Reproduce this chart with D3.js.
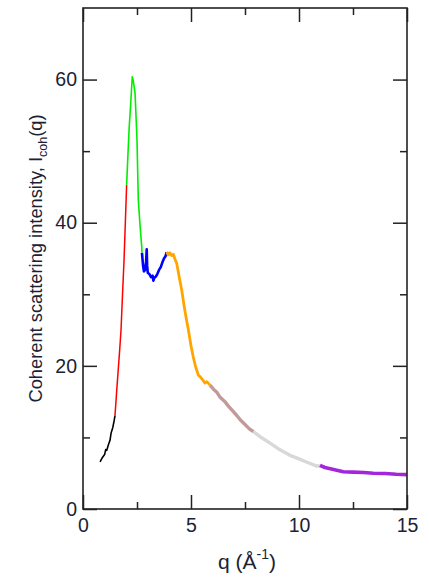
<!DOCTYPE html>
<html>
<head>
<meta charset="utf-8">
<script src="https://cdn.jsdelivr.net/npm/d3@7"></script>
<style>
  body { margin: 0; background: #fff; }
  svg { display: block; }
  text { font-family: "Liberation Sans", Arial, sans-serif; fill: #1b2233; }
</style>
</head>
<body>
<svg></svg>
<script>
const width = 429;
const height = 579;
const margin = { left: 83, top: 8, right: 22, bottom: 70 };

// q (1/Å), I_coh(q), one array per colour segment
const segBlack = [[0.79, 6.6], [0.9, 7.2], [1.0, 7.6], [1.05, 8.3], [1.1, 8.2], [1.18, 9.0], [1.25, 9.6], [1.3, 10.6], [1.38, 11.4], [1.44, 12.3], [1.48, 13.0]];
const segRed = [[1.48, 13.0], [1.56, 16.5], [1.63, 19.4], [1.7, 22.3], [1.76, 25.0], [1.83, 30.0], [1.9, 34.8], [1.96, 40.0], [2.02, 45.3]];
const segGreen = [[2.02, 45.3], [2.08, 49.5], [2.14, 53.4], [2.21, 56.7], [2.28, 60.4], [2.33, 59.8], [2.41, 58.1], [2.5, 51.6], [2.53, 47.4], [2.56, 43.2], [2.64, 39.7], [2.72, 36.6], [2.73, 35.8]];
const segBlue = [[2.73, 35.8], [2.78, 34.0], [2.82, 33.2], [2.87, 33.4], [2.92, 34.5], [2.95, 36.3], [2.97, 34.0], [3.0, 33.0], [3.08, 32.8], [3.15, 32.4], [3.22, 32.6], [3.26, 31.9], [3.3, 32.3], [3.38, 32.5], [3.45, 32.9], [3.52, 33.4], [3.6, 33.8], [3.68, 34.5], [3.75, 35.0], [3.82, 35.3], [3.87, 35.9]];
const segOrange = [[3.87, 35.9], [3.95, 35.5], [4.02, 35.8], [4.1, 35.4], [4.18, 35.6], [4.26, 34.9], [4.34, 34.3], [4.45, 32.5], [4.57, 30.6], [4.7, 28.0], [4.8, 26.3], [4.88, 25.0], [5.0, 22.8], [5.1, 21.3], [5.22, 19.8], [5.34, 18.7], [5.42, 18.5], [5.55, 18.0], [5.65, 17.6], [5.73, 17.8], [5.88, 17.3]];
const segBrown = [[5.88, 17.3], [6.05, 16.7], [6.2, 16.3], [6.35, 15.6], [6.57, 15.0], [6.75, 14.3], [6.9, 13.8], [7.11, 13.1], [7.3, 12.4], [7.5, 11.8], [7.7, 11.2], [7.89, 10.8]];
const segGrey = [[7.89, 10.8], [8.2, 10.1], [8.66, 9.2], [9.1, 8.3], [9.58, 7.5], [10.0, 7.0], [10.4, 6.5], [10.82, 6.0], [10.97, 6.0]];
const segViolet = [[10.97, 6.1], [11.2, 5.8], [11.5, 5.6], [12.05, 5.2], [12.5, 5.15], [13.0, 5.1], [13.44, 5.0], [14.0, 4.95], [14.5, 4.85], [15.0, 4.8]];

const segments = [
  { data: segBlack, color: '#000000', w: 1.6, op: 1 },
  { data: segRed, color: '#ff0000', w: 1.5, op: 1 },
  { data: segGreen, color: '#00ee00', w: 1.6, op: 1 },
  { data: segBlue, color: '#0000ff', w: 2.6, op: 1 },
  { data: segOrange, color: '#ffa500', w: 2.8, op: 1 },
  { data: segBrown, color: '#bc8f8f', w: 3.4, op: 0.9 },
  { data: segGrey, color: '#d8d8d8', w: 3.4, op: 1 },
  { data: segViolet, color: '#9400d3', w: 3.6, op: 0.85 }
];

const xMajor = [0, 5, 10, 15];
const xMinor = [2.5, 7.5, 12.5];
const yMajor = [0, 20, 40, 60];
const yMinor = [10, 30, 50];

const svg = d3.select('svg')
  .attr('width', width)
  .attr('height', height);

const x = d3.scaleLinear().domain([0, 15]).range([margin.left, width - margin.right]);
const y = d3.scaleLinear().domain([0, 70]).range([height - margin.bottom, margin.top]);

const x0 = x(0), x1 = x(15), y0 = y(0), y1 = y(70);

const style = g => {
  g.select('.domain').remove();
  g.selectAll('.tick line').attr('stroke', '#222').attr('stroke-width', 1.5);
  g.selectAll('text').attr('fill', '#1b2233');
};

// bottom
svg.append('g').attr('transform', `translate(0,${y0})`)
  .call(d3.axisBottom(x).tickValues(xMajor).tickSizeInner(-14).tickSizeOuter(0).tickPadding(9))
  .call(style)
  .selectAll('text').style('font-size', '19.5px').attr('font-family', null);
svg.append('g').attr('transform', `translate(0,${y0})`)
  .call(d3.axisBottom(x).tickValues(xMinor).tickSizeInner(-7).tickSizeOuter(0).tickFormat(''))
  .call(style);
// top
svg.append('g').attr('transform', `translate(0,${y1})`)
  .call(d3.axisTop(x).tickValues(xMajor).tickSizeInner(-14).tickSizeOuter(0).tickFormat(''))
  .call(style);
svg.append('g').attr('transform', `translate(0,${y1})`)
  .call(d3.axisTop(x).tickValues(xMinor).tickSizeInner(-7).tickSizeOuter(0).tickFormat(''))
  .call(style);
// left
svg.append('g').attr('transform', `translate(${x0},0)`)
  .call(d3.axisLeft(y).tickValues(yMajor).tickSizeInner(-14).tickSizeOuter(0).tickPadding(6))
  .call(style)
  .selectAll('text').style('font-size', '19.5px').attr('font-family', null);
svg.append('g').attr('transform', `translate(${x0},0)`)
  .call(d3.axisLeft(y).tickValues(yMinor).tickSizeInner(-7).tickSizeOuter(0).tickFormat(''))
  .call(style);
// right
svg.append('g').attr('transform', `translate(${x1},0)`)
  .call(d3.axisRight(y).tickValues(yMajor).tickSizeInner(-14).tickSizeOuter(0).tickFormat(''))
  .call(style);
svg.append('g').attr('transform', `translate(${x1},0)`)
  .call(d3.axisRight(y).tickValues(yMinor).tickSizeInner(-7).tickSizeOuter(0).tickFormat(''))
  .call(style);

const line = d3.line()
  .x(d => x(d[0]))
  .y(d => y(d[1]));

svg.append('g')
  .selectAll('path')
  .data(segments)
  .join('path')
  .attr('fill', 'none')
  .attr('stroke', d => d.color)
  .attr('stroke-width', d => d.w)
  .attr('stroke-opacity', d => d.op)
  .attr('stroke-linejoin', 'round')
  .attr('d', d => line(d.data));

// frame
svg.append('rect')
  .attr('x', x0).attr('y', y1)
  .attr('width', x1 - x0).attr('height', y0 - y1)
  .attr('fill', 'none')
  .attr('stroke', '#222')
  .attr('stroke-width', 1.6);

// x title
const xt = svg.append('text')
  .attr('x', (x0 + x1) / 2 + 2)
  .attr('y', 569)
  .attr('text-anchor', 'middle')
  .style('font-size', '21px');
xt.append('tspan').text('q (Å');
xt.append('tspan').attr('dy', -10).style('font-size', '14px').text('-1');
xt.append('tspan').attr('dy', 10).text(')');

// y title
const yt = svg.append('text')
  .attr('transform', `translate(42,${(y0 + y1) / 2}) rotate(-90)`)
  .attr('text-anchor', 'middle')
  .style('font-size', '18.3px');
yt.append('tspan').text('Coherent scattering intensity, I');
yt.append('tspan').attr('dy', 5).style('font-size', '12.5px').text('coh');
yt.append('tspan').attr('dy', -5).text('(q)');
</script>
</body>
</html>
